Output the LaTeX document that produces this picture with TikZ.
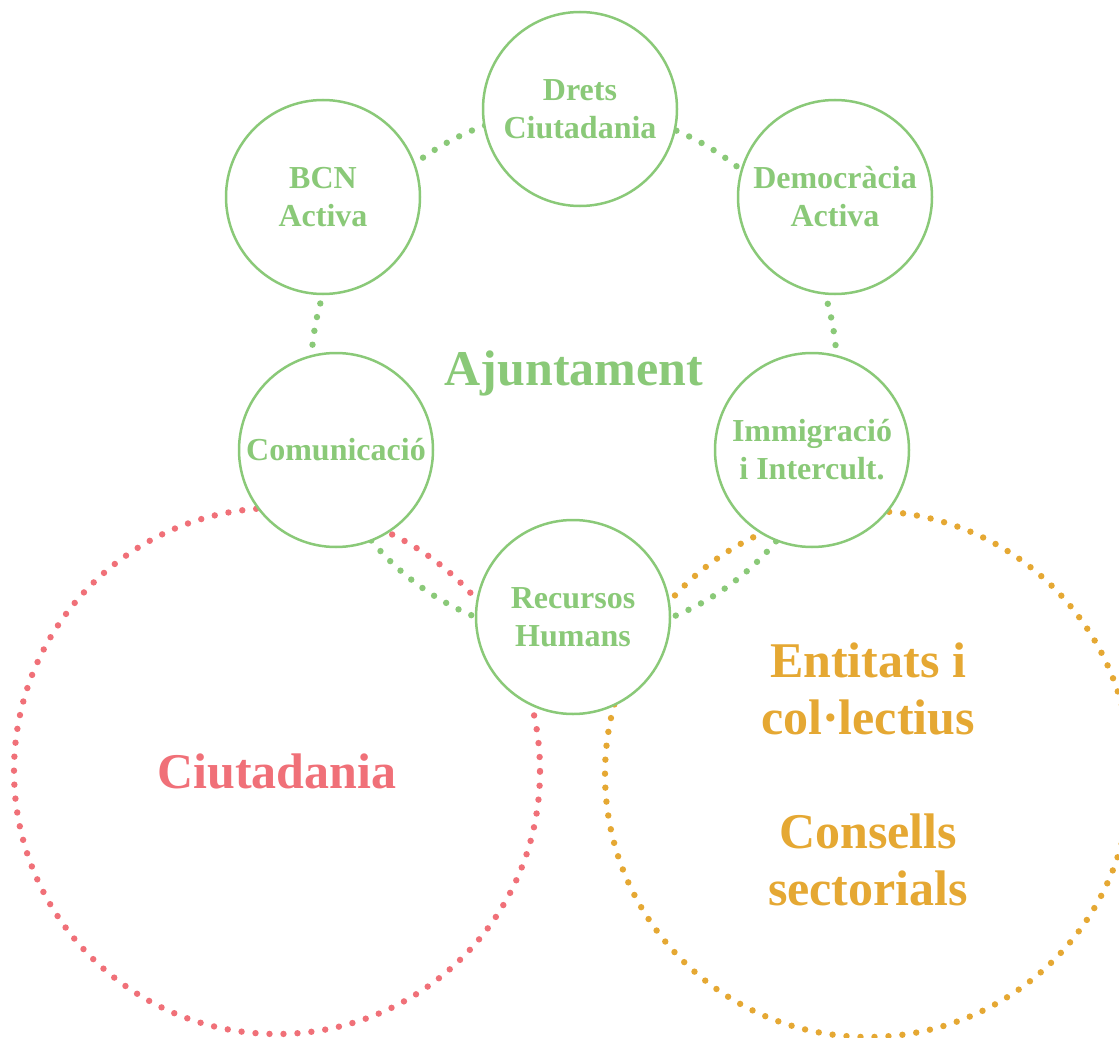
\documentclass[tikz,border=0pt]{standalone}
\usepackage{tikz}
\usepackage{fontspec}
\setmainfont{Liberation Serif}
\definecolor{cvert}{rgb}{0.54, 0.79, 0.47}
\definecolor{crouge}{rgb}{0.94, 0.44, 0.47}
\definecolor{corange}{rgb}{0.90, 0.66, 0.20}

\begin{document}
\begin{tikzpicture}[x=0.5pt, y=-0.5pt]
	\tikzstyle{anneau}=[circle, minimum size=263pt, inner sep=0pt, dash pattern=on 0pt off 7pt, line cap=round, line width=3.2pt, align=center, font=\fontsize{25}{28.5}\selectfont\bfseries]
	\tikzstyle{service}=[circle, minimum size=97pt, inner sep=0pt, draw=cvert, line width=1.25pt, fill=white, text=cvert, align=center, font=\fontsize{16}{19}\selectfont\bfseries]

	\useasboundingbox (0,0) rectangle (1119,1038);

	% ANNEAUX
	\node[anneau, draw=cvert, text=cvert] (ajunt) at (574,373) {Ajuntament};
	\node[anneau, draw=crouge, text=crouge] (ciut) at (277,771) {Ciutadania};
	\node[anneau, draw=corange, text=corange] (entit) at (868,774) {Entitats i\\col·lectius\\[28.5pt]Consells\\sectorials};

	% SERVEIS
	\node[service] (Drets) at (580,109) {Drets\\Ciutadania};
	\node[service] (BCN) at (323,197) {BCN\\Activa};
	\node[service] (Demo) at (835,197) {Democràcia\\Activa};
	\node[service] (Comu) at (336,450) {Comunicació};
	\node[service] (Immi) at (812,450) {Immigració\\i Intercult.};
	\node[service] (RRHH) at (573,617) {Recursos\\Humans};
\end{tikzpicture}
\end{document}
